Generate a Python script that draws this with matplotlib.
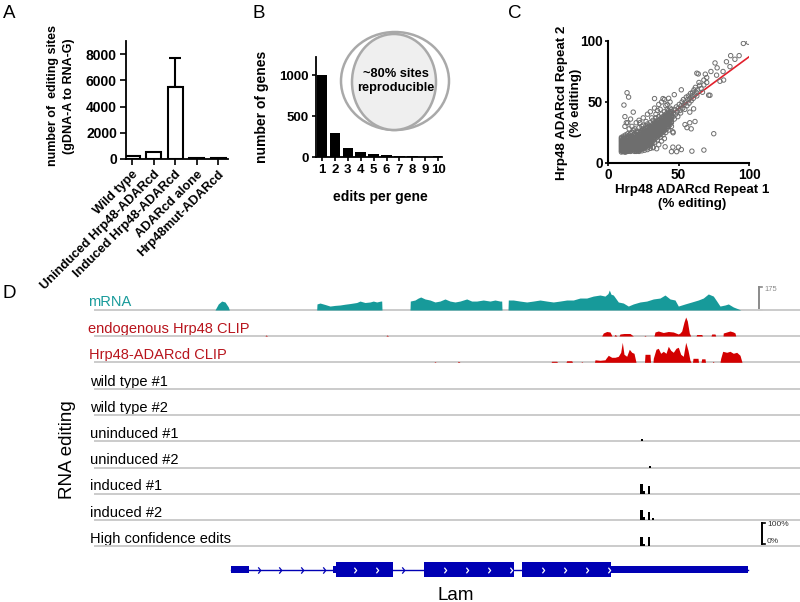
import matplotlib
matplotlib.use('Agg')
import matplotlib.pyplot as plt
from matplotlib.patches import Ellipse, Rectangle
from matplotlib.path import Path
import numpy as np

plt.rcParams['font.family'] = ['Liberation Sans', 'DejaVu Sans']

# ------------------------------------------------------------------ data
# Panel A
a_groups = ["Wild type", "Uninduced Hrp48-ADARcd", "Induced Hrp48-ADARcd",
            "ADARcd alone", "Hrp48mut-ADARcd"]
a_values = [200, 560, 5500, 80, 50]
a_err_up = [0, 0, 2200, 0, 0]
a_yticks = [0, 2000, 4000, 6000, 8000]

# Panel B
b_edits = [1, 2, 3, 4, 5, 6, 7, 8, 9, 10]
b_genes = [1000, 296, 106, 57, 33, 23, 12, 10, 5, 8]
b_yticks = [0, 500, 1000]
b_venn_text = "~80% sites\nreproducible"

# Panel C  (dense core, read column by column: repeat-1 value -> repeat-2 values)
c_core = {
    9.5: [9, 10, 11, 12, 13, 14, 15, 16, 17, 18, 19, 20, 21],
    10.3: [9.5, 10.5, 11.5, 12.5, 13.5, 14.5, 15.5, 17, 19],
    11: [9.5, 10.5, 11.5, 12.5, 13.5, 14.5, 15.5, 16.5, 18, 20, 22],
    11.8: [9, 10, 11, 12, 13, 14, 15, 16, 17.5, 19.5],
    12.5: [9, 10, 11, 12, 13, 14, 15, 16, 17, 18, 19, 21, 23],
    13.3: [9.5, 10.5, 11.5, 12.5, 13.5, 14.5, 15.5, 16.5, 18, 20],
    14: [9.5, 10.5, 12, 13, 14.5, 15.5, 17, 18, 20, 22, 24],
    15: [10, 11, 12, 13.5, 15, 16, 17.5, 19, 21, 23],
    16: [9.5, 11, 12.5, 14, 15, 16.5, 18, 19.5, 21, 24],
    17: [10.5, 12, 13, 14.5, 16, 17, 18.5, 20, 22, 25],
    18: [10, 11.5, 13, 14, 15.5, 17, 18, 19.5, 21, 23, 27],
    19: [9.5, 11, 12.5, 14, 15, 16.5, 18, 19, 20.5, 22, 24],
    20: [10.5, 12, 13.5, 15, 16, 17.5, 19, 20, 21.5, 23, 26],
    21: [10, 11, 13, 14.5, 16, 17, 18.5, 20, 21, 22.5, 25],
    22: [10.5, 12, 13.5, 15, 16.5, 18, 19, 20.5, 22, 23.5, 26, 29],
    23: [11, 12.5, 14, 15.5, 17, 18.5, 20, 21.5, 23, 25],
    24: [11.5, 13, 15, 16.5, 18, 19.5, 21, 22, 23.5, 25, 27],
    25: [12, 14, 15.5, 17, 18.5, 20, 21.5, 23, 24.5, 26, 28, 31],
    26: [13, 15, 16.5, 18, 19.5, 21, 22.5, 24, 25.5, 27],
    27: [13.5, 15.5, 17, 19, 20.5, 22, 23.5, 25, 26.5, 28, 30],
    28: [14.5, 16, 18, 19.5, 21, 22.5, 24, 25.5, 27, 29, 32],
    29: [15.5, 17, 19, 20.5, 22, 23.5, 25, 26.5, 28, 30],
    30: [16, 17.5, 19.5, 21, 22.5, 24, 25.5, 27, 28.5, 30, 33],
    31: [17, 19, 20.5, 22, 23.5, 25, 26.5, 28, 29.5, 31],
    32: [18, 19.5, 21, 23, 24.5, 26, 27.5, 29, 30.5, 32, 35],
    33: [19.5, 21, 22.5, 24, 25.5, 27, 28.5, 30, 31.5, 33],
    34: [20.5, 22, 23.5, 25, 26.5, 28, 29.5, 31, 32.5, 34, 37],
    35: [21.5, 23, 24.5, 26, 27.5, 29, 30.5, 32, 33.5, 35],
    36: [22.5, 24, 25.5, 27, 28.5, 30, 31.5, 33, 35, 38],
    37: [23.5, 25, 26.5, 28, 29.5, 31, 32.5, 34, 36],
    38: [24.5, 26, 27.5, 29, 30.5, 32, 33.5, 35, 37, 40],
    39: [25.5, 27, 28.5, 30, 31.5, 33, 34.5, 36, 38],
    40: [26.5, 28, 29.5, 31, 32.5, 34, 35.5, 37, 39, 42],
    41: [27.5, 29, 31, 32.5, 34, 35.5, 37, 38.5, 40],
    42: [28.5, 30, 32, 33.5, 35, 36.5, 38, 39.5, 41, 44],
    43: [30, 31.5, 33, 34.5, 36, 37.5, 39, 41, 43],
    44: [31.5, 33, 34.5, 36, 37.5, 39, 40.5, 42, 45],
    45: [33, 34, 36, 37.5, 39, 40.5, 42, 44],
}
c_extra = [
    (46, 38), (46.5, 41), (47, 36), (47, 44), (48, 40), (48.5, 46), (49, 42),
    (49.5, 38), (50, 45), (50.5, 48), (51, 43), (51.5, 41), (52, 47), (52.5, 50),
    (53, 45), (53.5, 52), (54, 48), (54.5, 44), (55, 50), (55.5, 54), (56, 47),
    (56.5, 52), (57, 55), (57.5, 49), (58, 53), (58.5, 57), (59, 51), (59.5, 55),
    (60, 58), (60.5, 53), (61, 60), (61.5, 56), (62, 62), (62.5, 58), (63, 55),
    (63.5, 60), (64, 73), (65, 63.7), (64.5, 66), (66, 61), (67, 58), (68, 64),
    (70, 66), (12, 30), (13, 33), (15, 28), (17, 30), (20, 33), (22, 35),
    (25, 37), (28, 40), (30, 42), (33, 45), (36, 48), (38, 50), (40, 52),
    (35, 43), (41, 47), (44, 50), (43, 53), (47, 56), (17.9, 41.7), (22.6, 33),
    (33, 52.8), (39, 52.8), (52, 60), (63, 73.6), (69, 72.8), (46, 25.6),
    (56, 29), (58, 33), (40.5, 13.3), (34.5, 11.7), (30, 14), (46, 13), (50, 13),
    (52, 11), (59.5, 9.7), (68, 10.6), (75, 24), (58, 41.7), (60.7, 44.4),
    (71.4, 55.6), (82, 68), (77.4, 78), (99.5, 99), (96, 98), (93, 88), (87, 88),
    (86.5, 79), (81.6, 75), (75.9, 82), (79.4, 67), (72.3, 55.5), (73, 75),
    (90, 85), (84, 83), (70, 70), (68, 68), (77, 72), (13.5, 57.6), (14.6, 54),
    (11.3, 47.5), (12, 38), (16, 36), (14, 33), (48.7, 9.3), (54.6, 31.5),
    (61.7, 34), (59, 28), (46.2, 24.8), (32, 13), (45, 9.3), (20, 9.5), (22, 9.5),
    (24, 10), (26, 10.5), (28, 11), (30, 12), (32, 12.5), (25, 12), (27, 13.5),
    (29, 14.5), (31, 16), (33, 17), (35, 19), (37, 21), (39, 23), (41, 25),
    (43, 27), (45, 30), (36, 15), (38, 18), (19, 28), (24, 30), (27, 34),
    (31, 37), (34, 40), (37, 44), (42, 48), (26, 18), (28, 12.5), (40, 20),
]
c_fit_slope = 0.85
c_fit_intercept = 2.0
c_fit_xrange = [45, 100]
c_ticks = [0, 50, 100]

# Panel D  (genomic positions in bp from window start; window = 0..7050 bp)
d_window = (0, 7050)
mrna_pos = [1200, 1233, 1267, 1300, 1333, 1343,
            2217, 2220, 2250, 2300, 2350, 2400, 2450, 2500, 2550, 2617, 2650, 2700,
            2750, 2783, 2817, 2857, 2867, 2870,
            3150, 3153, 3200, 3230, 3257, 3300, 3350, 3400, 3450, 3500, 3550, 3600,
            3650, 3717, 3767, 3817, 3883, 3950, 4000, 4050, 4067, 4070,
            4130, 4133, 4183, 4250, 4317, 4383, 4450, 4517, 4583, 4650, 4717, 4783,
            4850, 4917, 4983, 5050, 5100, 5130, 5143, 5160, 5183, 5233, 5283, 5333,
            5383, 5450, 5517, 5583, 5650, 5700, 5750, 5800, 5833, 5900, 5967, 6033,
            6083, 6133, 6183, 6217, 6250, 6300, 6333, 6383, 6433, 6457]
mrna_cov = [0, 46, 68, 61, 23, 0,
            0, 46, 53, 42, 30, 35, 38, 44, 49, 57, 68, 57,
            61, 68, 61, 68, 68, 0,
            0, 68, 76, 90, 99, 84, 76, 61, 68, 84, 68, 61,
            68, 84, 68, 68, 76, 68, 76, 68, 68, 0,
            0, 76, 76, 68, 61, 68, 76, 68, 61, 68, 76, 76,
            91, 91, 106, 114, 106, 125, 152, 120, 114, 61, 53, 30,
            46, 61, 68, 84, 91, 114, 84, 76, 30, 46, 61, 76,
            91, 122, 106, 68, 30, 38, 46, 23, 8, 0]
endo_pos = [1700, 1710, 1725, 2910, 2920, 2935,
            5067, 5083, 5117, 5150, 5170, 5190, 5200, 5220, 5240, 5250, 5290, 5350, 5383,
            5490, 5500, 5510,
            5590, 5600, 5633, 5683, 5733, 5783, 5833, 5850, 5867, 5890, 5907, 5923, 5943, 5957,
            6010, 6017, 6067, 6075, 6160, 6167, 6200, 6207,
            6280, 6283, 6317, 6350, 6383, 6400, 6407]
endo_cov = [0, 1, 0, 0, 1, 0,
            0, 3, 4.5, 4, 0, 0, 1.5, 0, 0, 2, 2.5, 2.5, 0,
            0, 0.7, 0,
            0, 4, 5, 3.5, 4.5, 4, 2, 3, 5, 14, 19, 15, 3, 0,
            0, 1.5, 1.5, 0, 0, 2, 2, 0,
            0, 3, 4, 5, 4, 3, 0]
adar_pos = [3390, 3400, 3410, 3625, 3633, 3650,
            4560, 4567, 4617, 4625, 4710, 4717, 4767, 4775, 4860, 4867, 4877,
            4995, 5000, 5050, 5100, 5110, 5133, 5167, 5200, 5233, 5257, 5273, 5290,
            5317, 5343, 5367, 5390, 5410,
            5495, 5500, 5550, 5555,
            5580, 5583, 5610, 5633, 5657, 5683, 5710, 5733, 5757, 5783, 5810, 5833,
            5857, 5883, 5907, 5930, 5950, 5960,
            5975, 5980, 6030, 6035, 6060, 6067, 6100, 6105, 6175, 6180, 6190,
            6250, 6257, 6277, 6317, 6350, 6383, 6417, 6450, 6470]
adar_cov = [0, 0.7, 0, 0, 1, 0,
            0, 1, 1, 0, 0, 1.5, 1.5, 0, 0, 0.7, 0,
            0, 2.5, 2, 2.5, 4, 7, 5, 5, 6, 10, 20, 8,
            6, 13, 10, 9, 0,
            0, 8, 8, 0,
            0, 4, 13, 14, 9, 11, 9, 16, 12, 10, 14, 15,
            8, 6, 20, 12, 2, 0,
            0, 4, 4, 0, 0, 3.5, 3.5, 0, 0, 1, 0,
            0, 4, 11, 10, 11, 9, 10, 7, 0]
mrna_scale = 175

edit_names = ["wild type #1", "wild type #2", "uninduced #1", "uninduced #2",
              "induced #1", "induced #2", "High confidence edits"]
edit_pos = [[], [], [5470], [5550], [5465, 5485, 5540], [5465, 5485, 5540, 5580],
            [5465, 5485, 5540]]
edit_pct = [[], [], [10], [10], [50, 14, 38], [50, 14, 40, 10], [48, 12, 45]]

gene_name = "Lam"
gene_span = (1363, 6530)
gene_utr = [(1363, 1537), (2383, 2405), (5163, 6530)]
gene_cds = [(2405, 2980), (3290, 4190), (4270, 5163)]

# ------------------------------------------------------------------ layout helpers
W, H = 800, 602
fig = plt.figure(figsize=(8, 6.02), dpi=100)


def px_ax(x0, y0, x1, y1):
    ax = fig.add_axes([x0 / W, 1 - y1 / H, (x1 - x0) / W, (y1 - y0) / H])
    ax.set_facecolor('none')
    return ax


ov = fig.add_axes([0, 0, 1, 1])
ov.set_xlim(0, W)
ov.set_ylim(H, 0)
ov.axis('off')
ov.set_facecolor('none')

BOLD = dict(fontweight='bold')

for letter, x, y in [("A", 3, 18), ("B", 253, 18), ("C", 508, 18), ("D", 3, 298)]:
    ov.text(x, y, letter, fontsize=13.5, ha='left', va='baseline')


def style_axes(ax, lw=1.3):
    for s in ['top', 'right']:
        ax.spines[s].set_visible(False)
    for s in ['left', 'bottom']:
        ax.spines[s].set_linewidth(lw)


# ------------------------------------------------------------------ Panel A
axA = px_ax(126, 41, 228, 159)
xa = np.arange(len(a_groups))
axA.bar(xa, a_values, width=0.7, color='white', edgecolor='black', linewidth=1.5, zorder=2)
axA.errorbar(xa[2], a_values[2], yerr=[[0], [a_err_up[2]]], fmt='none', ecolor='black',
             elinewidth=1.5, capsize=4, capthick=1.5, zorder=1)
axA.set_xlim(-0.28, 4.46)
axA.set_ylim(0, 9000)
axA.set_yticks(a_yticks)
axA.set_yticklabels([str(v) for v in a_yticks], fontsize=10, **BOLD)
axA.set_xticks(xa)
axA.set_xticklabels(a_groups, rotation=45, ha='right', rotation_mode='anchor',
                    fontsize=9.3, **BOLD)
axA.tick_params(axis='both', direction='out', length=4.5, width=1.2, pad=2)
style_axes(axA)
ov.text(61, 96, "number of  editing sites\n(gDNA-A to RNA-G)", rotation=90,
        ha='center', va='center', fontsize=9, linespacing=1.45, **BOLD)

# ------------------------------------------------------------------ Panel B
axB = px_ax(316, 57, 442, 157)
axB.bar(b_edits, b_genes, width=0.82, color='black', zorder=2)
axB.set_xlim(0.53, 10.3)
axB.set_ylim(0, 1220)
axB.set_yticks(b_yticks)
axB.set_yticklabels([str(v) for v in b_yticks], fontsize=9.5, **BOLD)
axB.set_xticks(b_edits)
axB.set_xticklabels([str(v) for v in b_edits], fontsize=9.5, **BOLD)
axB.tick_params(axis='both', direction='out', length=3, width=1.2, pad=2)
style_axes(axB)
ov.text(262, 107, "number of genes", rotation=90, ha='center', va='center',
        fontsize=10, **BOLD)
ov.text(380, 197, "edits per gene", ha='center', va='center', fontsize=10, **BOLD)
ov.add_patch(Ellipse((395, 81), 108, 98, fill=False, ec='#a9a9a9', lw=1.8))
ov.add_patch(Ellipse((394, 82), 84, 96, fc='#efefef', ec='#a9a9a9', lw=1.8))
ov.text(396, 81, b_venn_text, ha='center', va='center', fontsize=9.2,
        linespacing=1.3, **BOLD)

# ------------------------------------------------------------------ Panel C
rep1, rep2 = [], []
for xv, ys in c_core.items():
    for yv in ys:
        rep1.append(xv)
        rep2.append(yv)
for xv, yv in c_extra:
    rep1.append(xv)
    rep2.append(yv)

axC = px_ax(608, 41, 749, 163)
fx = np.array(c_fit_xrange, dtype=float)
axC.plot(fx, c_fit_intercept + c_fit_slope * fx, color='#e2202c', lw=1.2, zorder=2)
axC.scatter(rep1, rep2, s=10, facecolors='none', edgecolors='#6e6e6e',
            linewidths=0.7, zorder=3)
axC.set_xlim(0, 100)
axC.set_ylim(0, 100)
axC.set_xticks(c_ticks)
axC.set_yticks(c_ticks)
axC.set_xticklabels([str(v) for v in c_ticks], fontsize=9.8, **BOLD)
axC.set_yticklabels([str(v) for v in c_ticks], fontsize=9.8, **BOLD)
axC.tick_params(axis='both', direction='out', length=2.5, width=1.2, pad=1)
style_axes(axC, lw=1.5)
ov.text(569, 103, "Hrp48 ADARcd Repeat 2\n(% editing)", rotation=90, ha='center',
        va='center', fontsize=9.6, linespacing=1.2, **BOLD)
ov.text(692, 197, "Hrp48 ADARcd Repeat 1\n(% editing)", ha='center', va='center',
        fontsize=9.6, linespacing=1.15, **BOLD)

# ------------------------------------------------------------------ Panel D
TEAL = '#179a9a'
RED_FILL = '#d30000'
RED_TEXT = '#b8141c'
GRID = '#cbcbcb'
GENE = '#0000b4'
X0, X1 = 95, 800


def track_ax(top, base, ymax):
    ax = px_ax(X0, top, X1, base)
    ax.set_xlim(*d_window)
    ax.set_ylim(0, ymax)
    ax.axis('off')
    ax.axhline(0, color=GRID, lw=1.4, clip_on=False, zorder=1)
    return ax


# mRNA
ax = track_ax(287, 310, mrna_scale)
ax.fill_between(mrna_pos, mrna_cov, 0, color=TEAL, lw=0, zorder=2)
ov.text(88, 306.5, "mRNA", color=TEAL, fontsize=10.5, ha='left', va='baseline')
ov.plot([759, 759], [287, 310], color='#8a8a8a', lw=1.4)
ov.plot([759, 762], [287, 287], color='#8a8a8a', lw=1.2)
ov.plot([759, 762], [310, 310], color='#8a8a8a', lw=1.2)
ov.text(764, 289.5, str(mrna_scale), color='#8a8a8a', fontsize=5.5, ha='left',
        va='center')

# CLIP tracks
ax = track_ax(314, 336, 22)
ax.fill_between(endo_pos, endo_cov, 0, color=RED_FILL, lw=0, zorder=2)
ov.text(88, 332.5, "endogenous Hrp48 CLIP", color=RED_TEXT, fontsize=10.5,
        ha='left', va='baseline')
ax = track_ax(340.3, 362.3, 22)
ax.fill_between(adar_pos, adar_cov, 0, color=RED_FILL, lw=0, zorder=2)
ov.text(89, 358.5, "Hrp48-ADARcd CLIP", color=RED_TEXT, fontsize=10.5,
        ha='left', va='baseline')

# RNA editing tracks
for i, name in enumerate(edit_names):
    base = 389 + 26.2 * i
    ax = track_ax(base - 20, base, 100)
    if edit_pos[i]:
        ax.bar(edit_pos[i], edit_pct[i], width=24, color='black', lw=0, zorder=2)
    ov.text(90.5, base - 3.3, name, color='black', fontsize=10.5, ha='left',
            va='baseline')
ov.text(67, 450, "RNA editing", rotation=90, ha='center', va='center', fontsize=13.5)
ov.plot([762, 762], [523, 544], color='black', lw=1.4)
ov.plot([762, 764.5], [523, 523], color='black', lw=1.2)
ov.plot([762, 764.5], [544, 544], color='black', lw=1.2)
ov.text(767, 525, "100%", color='#333333', fontsize=6, ha='left', va='center')
ov.text(767, 541.5, "0%", color='#333333', fontsize=6, ha='left', va='center')

# gene model
axG = px_ax(X0, 554.5, X1, 584.5)
axG.set_xlim(*d_window)
axG.set_ylim(-15, 15)
axG.axis('off')
axG.plot(gene_span, [0, 0], color=GENE, lw=1.0, zorder=1)
for s, e in gene_utr:
    axG.add_patch(Rectangle((s, -3.8), e - s, 7.6, color=GENE, lw=0, zorder=2))
for s, e in gene_cds:
    axG.add_patch(Rectangle((s, -7.2), e - s, 14.4, color=GENE, lw=0, zorder=2))
chev = Path([(-0.4, 1), (0.4, 0), (-0.4, -1)], [Path.MOVETO, Path.LINETO, Path.LINETO])
intron_arrows = np.concatenate([np.arange(1637, 2383, 217), [3080]])
exon_arrows = np.concatenate([np.arange(2597, 2980, 226), np.arange(3497, 4190, 220),
                              np.arange(4480, 5163, 220)])
axG.plot(intron_arrows, np.zeros_like(intron_arrows), ls='none', marker=chev,
         ms=4.5, mfc='none', mec=GENE, mew=0.9, zorder=3)
axG.plot(exon_arrows, np.zeros_like(exon_arrows, dtype=float), ls='none', marker=chev,
         ms=4, mfc='none', mec='white', mew=0.9, zorder=3)
ov.text(456, 595, gene_name, ha='center', va='center', fontsize=13.5)

fig.savefig('out.png', dpi=100)
